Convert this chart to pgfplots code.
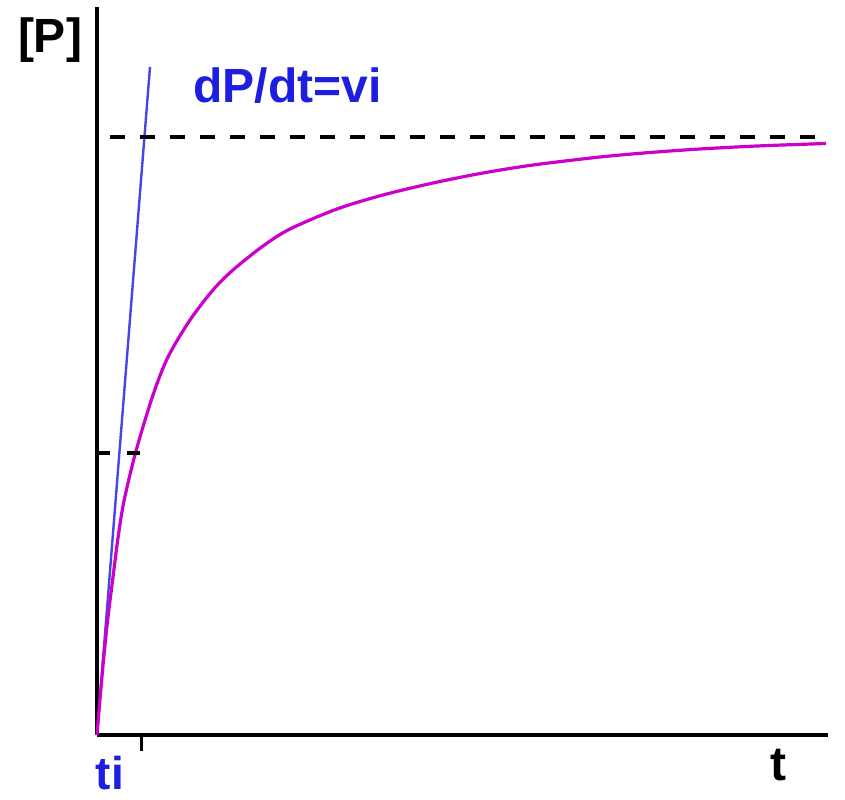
\documentclass[border=0pt]{standalone}
\usepackage{pgfplots}
\pgfplotsset{compat=1.18}
\usepackage{fontspec}
\setmainfont{Liberation Sans}
\definecolor{curvemag}{RGB}{204,0,204}
\definecolor{tanblue}{RGB}{70,70,230}
\definecolor{txtblue}{RGB}{30,30,225}
\begin{document}
\begin{tikzpicture}
% fixed page size, 1px of the reference = 0.5pt
\path[use as bounding box] (-48.5pt,-32pt) rectangle (374pt,367.5pt);
\begin{axis}[
    at={(0,0)}, anchor=origin,
    scale only axis,
    width=365.5pt, height=364pt,
    xmin=0, xmax=731, ymin=0, ymax=728,
    axis lines=left,
    axis line style={-, line width=1.8pt},
    xtick={45}, xticklabels={},
    ytick=\empty,
    tick align=outside,
    major tick length=8pt,
    tick style={line width=1.5pt, black},
    clip=false,
]
% tangent at t=0
\addplot[tanblue, line width=1.2pt] coordinates {(0,0) (53,668)};
% product curve
\addplot[curvemag, line width=1.6pt, smooth] coordinates {
    (0,0) (3,36) (7,80) (11,118) (15,150) (21,197) (27,234) (39,284)
    (56,340) (71,378) (93,415) (116,445) (136,465) (166,489) (193,506)
    (240,526) (286,540) (336,552) (386,562) (436,570) (503,578)
    (553,582.5) (603,586) (660,589) (729,591.5)};
% plateau and half level
\addplot[black, line width=1.6pt, dash pattern=on 7.5pt off 7.5pt] coordinates {(13,598) (729,598)};
\addplot[black, line width=1.6pt, dash pattern=on 6.5pt off 8.5pt] coordinates {(0,282) (43,282)};

\node[font=\fontsize{24}{28}\selectfont\bfseries] at (axis cs:-47,695) {[P]};
\node[font=\fontsize{24}{28}\selectfont\bfseries] at (axis cs:681,-30) {t};
\node[font=\fontsize{23}{27}\selectfont\bfseries, text=txtblue, inner sep=0pt] at (axis cs:13,-38) {ti};
\node[font=\fontsize{24}{28}\selectfont\bfseries, text=txtblue, anchor=base west, inner sep=0pt] at (axis cs:96,632) {dP/dt=vi};
\end{axis}
\end{tikzpicture}
\end{document}
